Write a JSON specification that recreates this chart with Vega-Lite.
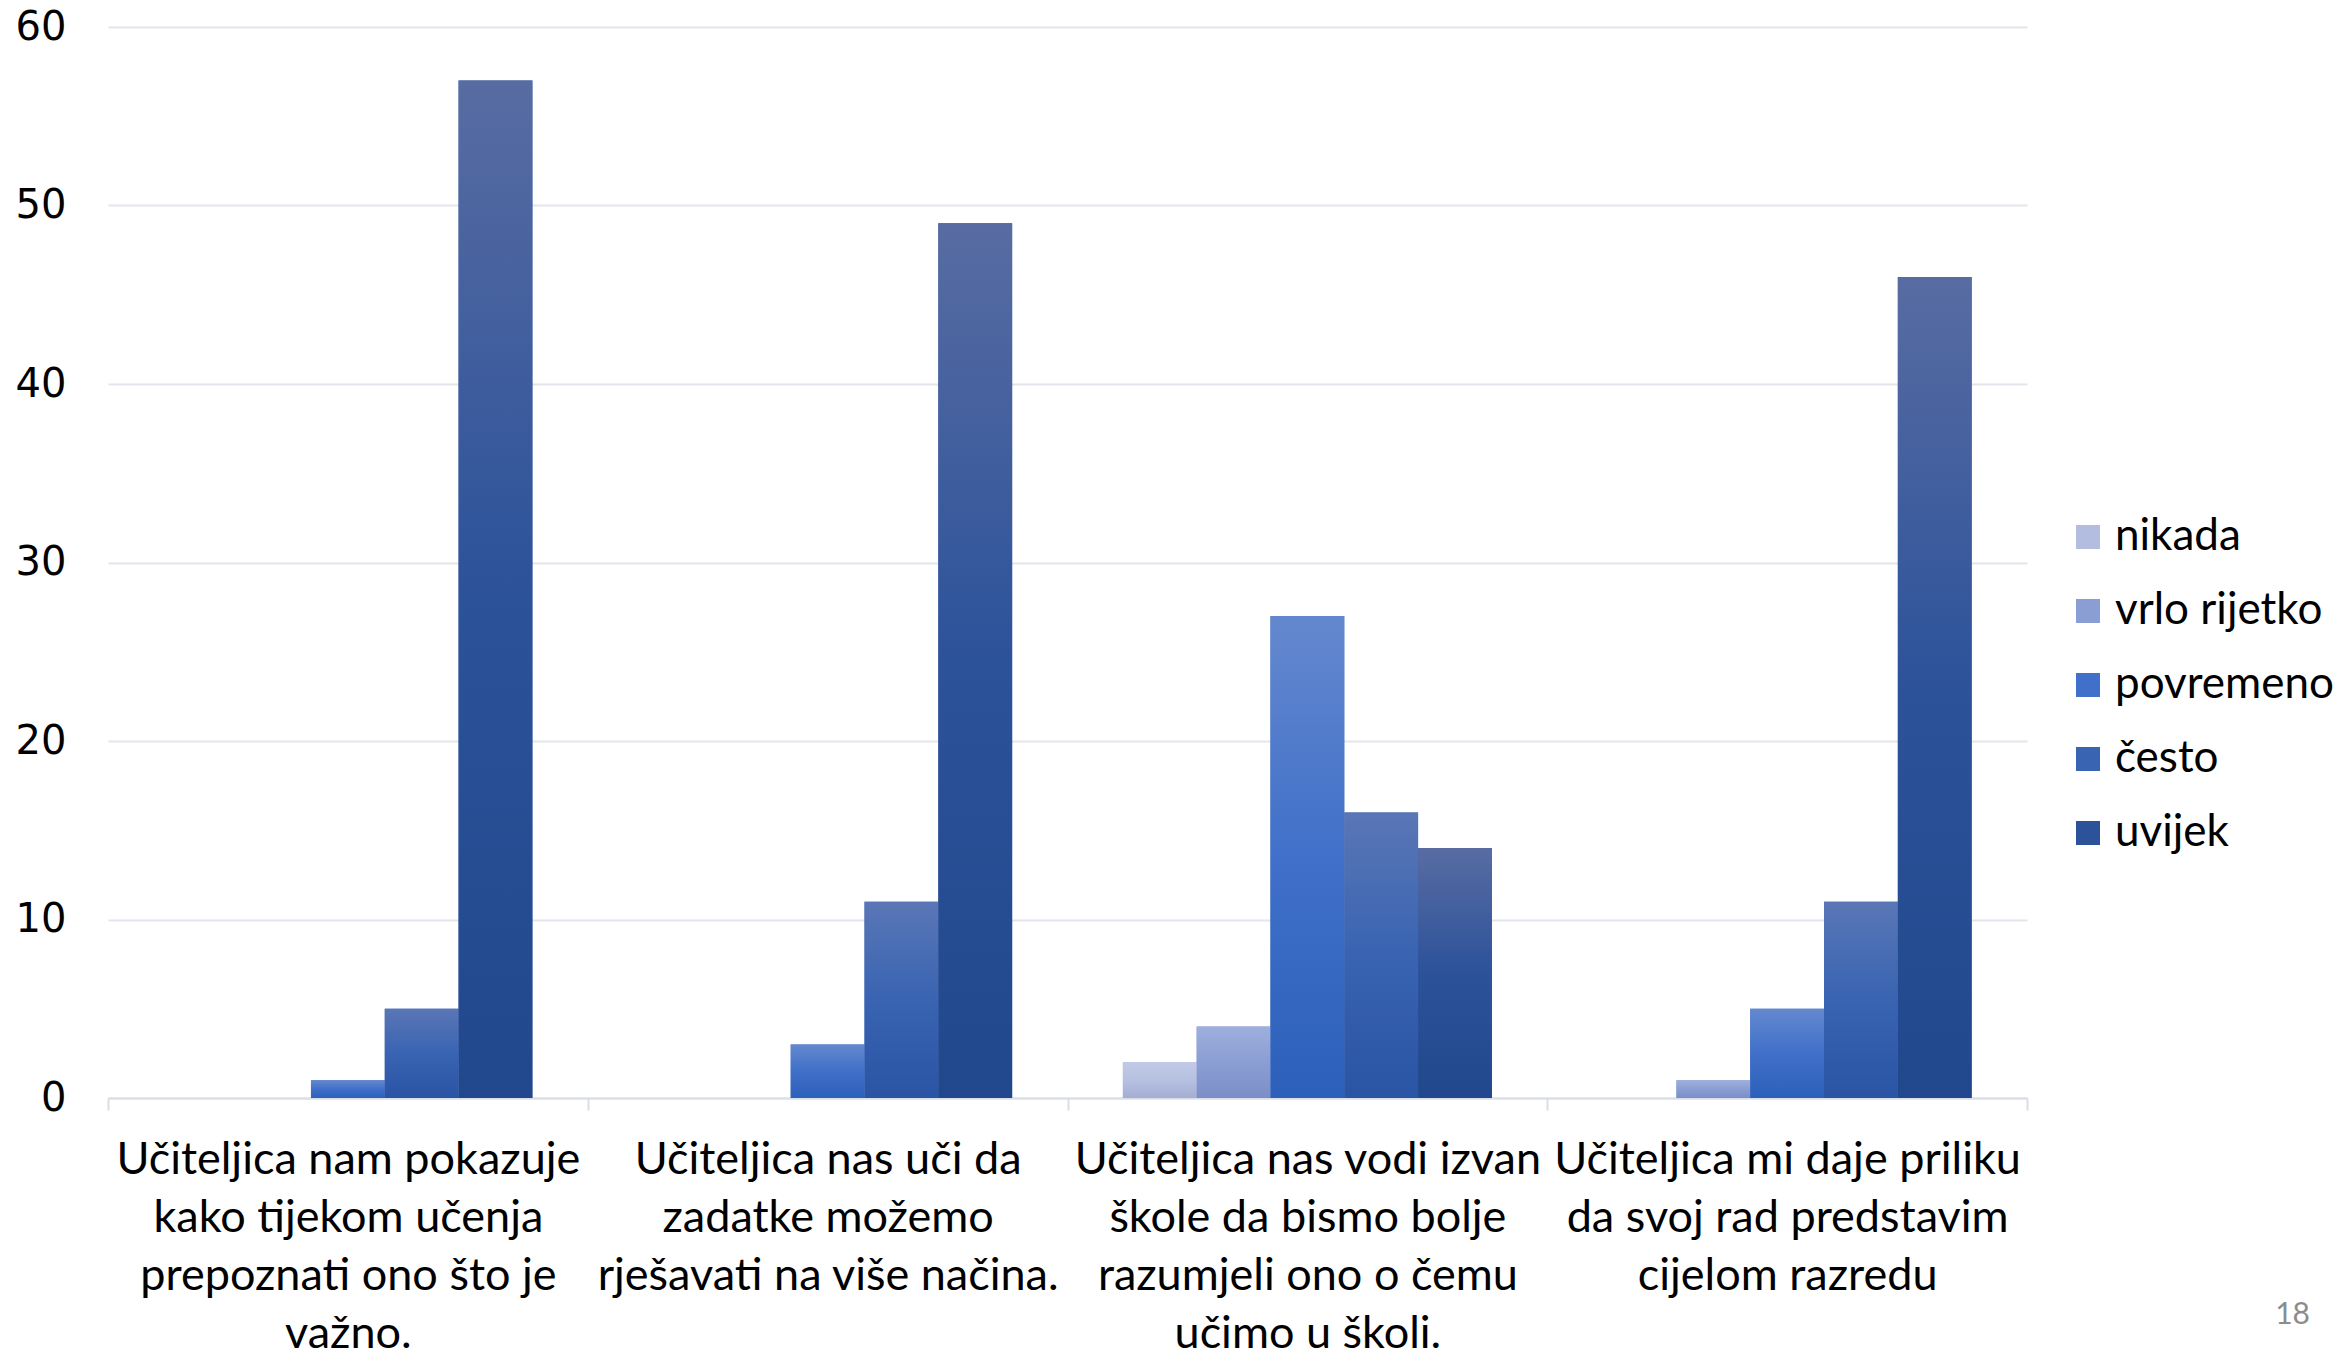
{
  "$schema": "https://vega.github.io/schema/vega-lite/v6.json",
  "autosize": {"type": "none"},
  "padding": {"left": 108, "top": 27, "right": 322, "bottom": 257},
  "width": 1919,
  "height": 1071,
  "background": "#ffffff",
  "title": {
    "text": "18",
    "orient": "bottom",
    "anchor": "end",
    "frame": "group",
    "fontSize": 30,
    "font": "Lato",
    "fontWeight": "normal",
    "color": "#8C8C8C",
    "dx": 283,
    "dy": -60
  },
  "data": {
    "values": [
      {"pitanje": "Učiteljica nam pokazuje kako tijekom učenja prepoznati ono što je važno.", "odgovor": "nikada", "broj": 0},
      {"pitanje": "Učiteljica nam pokazuje kako tijekom učenja prepoznati ono što je važno.", "odgovor": "vrlo rijetko", "broj": 0},
      {"pitanje": "Učiteljica nam pokazuje kako tijekom učenja prepoznati ono što je važno.", "odgovor": "povremeno", "broj": 1},
      {"pitanje": "Učiteljica nam pokazuje kako tijekom učenja prepoznati ono što je važno.", "odgovor": "često", "broj": 5},
      {"pitanje": "Učiteljica nam pokazuje kako tijekom učenja prepoznati ono što je važno.", "odgovor": "uvijek", "broj": 57},
      {"pitanje": "Učiteljica nas uči da zadatke možemo rješavati na više načina.", "odgovor": "nikada", "broj": 0},
      {"pitanje": "Učiteljica nas uči da zadatke možemo rješavati na više načina.", "odgovor": "vrlo rijetko", "broj": 0},
      {"pitanje": "Učiteljica nas uči da zadatke možemo rješavati na više načina.", "odgovor": "povremeno", "broj": 3},
      {"pitanje": "Učiteljica nas uči da zadatke možemo rješavati na više načina.", "odgovor": "često", "broj": 11},
      {"pitanje": "Učiteljica nas uči da zadatke možemo rješavati na više načina.", "odgovor": "uvijek", "broj": 49},
      {"pitanje": "Učiteljica nas vodi izvan škole da bismo bolje razumjeli ono o čemu učimo u školi.", "odgovor": "nikada", "broj": 2},
      {"pitanje": "Učiteljica nas vodi izvan škole da bismo bolje razumjeli ono o čemu učimo u školi.", "odgovor": "vrlo rijetko", "broj": 4},
      {"pitanje": "Učiteljica nas vodi izvan škole da bismo bolje razumjeli ono o čemu učimo u školi.", "odgovor": "povremeno", "broj": 27},
      {"pitanje": "Učiteljica nas vodi izvan škole da bismo bolje razumjeli ono o čemu učimo u školi.", "odgovor": "često", "broj": 16},
      {"pitanje": "Učiteljica nas vodi izvan škole da bismo bolje razumjeli ono o čemu učimo u školi.", "odgovor": "uvijek", "broj": 14},
      {"pitanje": "Učiteljica mi daje priliku da svoj rad predstavim cijelom razredu", "odgovor": "nikada", "broj": 0},
      {"pitanje": "Učiteljica mi daje priliku da svoj rad predstavim cijelom razredu", "odgovor": "vrlo rijetko", "broj": 1},
      {"pitanje": "Učiteljica mi daje priliku da svoj rad predstavim cijelom razredu", "odgovor": "povremeno", "broj": 5},
      {"pitanje": "Učiteljica mi daje priliku da svoj rad predstavim cijelom razredu", "odgovor": "često", "broj": 11},
      {"pitanje": "Učiteljica mi daje priliku da svoj rad predstavim cijelom razredu", "odgovor": "uvijek", "broj": 46}
    ]
  },
  "encoding": {
    "x": {
      "field": "pitanje",
      "type": "nominal",
      "sort": null,
      "scale": {"paddingInner": 0, "paddingOuter": 0},
      "axis": {
        "title": null,
        "labelAngle": 0,
        "labelFont": "Lato",
        "labelFontSize": 45,
        "labelColor": "#000000",
        "labelLineHeight": 58,
        "labelBaseline": "top",
        "labelPadding": 27,
        "labelLimit": 0,
        "labelAlign": "center",
        "tickBand": "extent",
        "tickColor": "#D9DEE6",
        "tickWidth": 2,
        "tickSize": 12,
        "domainColor": "#D9DEE6",
        "domainWidth": 2,
        "grid": false,
        "labelExpr": "datum.value == 'Učiteljica nam pokazuje kako tijekom učenja prepoznati ono što je važno.' ? ['Učiteljica nam pokazuje', 'kako tijekom učenja', 'prepoznati ono što je', 'važno.'] : datum.value == 'Učiteljica nas uči da zadatke možemo rješavati na više načina.' ? ['Učiteljica nas uči da', 'zadatke možemo', 'rješavati na više načina.'] : datum.value == 'Učiteljica nas vodi izvan škole da bismo bolje razumjeli ono o čemu učimo u školi.' ? ['Učiteljica nas vodi izvan', 'škole da bismo bolje', 'razumjeli ono o čemu', 'učimo u školi.'] : datum.value == 'Učiteljica mi daje priliku da svoj rad predstavim cijelom razredu' ? ['Učiteljica mi daje priliku', 'da svoj rad predstavim', 'cijelom razredu'] : ''"
      }
    },
    "xOffset": {
      "field": "odgovor",
      "type": "nominal",
      "sort": ["nikada", "vrlo rijetko", "povremeno", "često", "uvijek"],
      "scale": {"paddingInner": 0, "paddingOuter": 0.75}
    },
    "y": {
      "field": "broj",
      "type": "quantitative",
      "scale": {"domain": [0, 60], "nice": false},
      "axis": {
        "title": null,
        "values": [0, 10, 20, 30, 40, 50, 60],
        "domain": false,
        "ticks": false,
        "gridColor": "#E2E6EC",
        "gridWidth": 2,
        "labelFont": "DejaVu Sans",
        "labelFontSize": 40,
        "labelColor": "#000000",
        "labelPadding": 42
      }
    }
  },
  "layer": [
    {
      "mark": {"type": "bar", "strokeWidth": 0},
      "encoding": {
        "color": {
          "field": "odgovor",
          "type": "nominal",
          "scale": {
            "domain": ["nikada", "vrlo rijetko", "povremeno", "često", "uvijek"],
            "range": ["#B3BDDF", "#8B9ED3", "#4070C9", "#3964B2", "#2C529A"]
          },
          "legend": {
            "title": null,
            "orient": "none",
            "legendX": 1958,
            "legendY": 488,
            "padding": 0,
            "symbolType": "square",
            "symbolSize": 576,
            "symbolStrokeWidth": 0,
            "symbolOpacity": 1,
            "labelFont": "Lato",
            "labelFontSize": 44,
            "labelColor": "#000000",
            "labelOffset": 5,
            "rowPadding": 30,
            "labelLimit": 400
          }
        }
      }
    },
    {
      "mark": {
        "type": "bar",
        "strokeWidth": 0,
        "color": {"expr": "datum.odgovor == 'nikada' ? {gradient: 'linear', x1: 0, y1: 0, x2: 0, y2: 1, stops: [{offset: 0, color: '#C2CAE7'}, {offset: 0.5, color: '#B6C0E0'}, {offset: 1, color: '#A3AED3'}]} : datum.odgovor == 'vrlo rijetko' ? {gradient: 'linear', x1: 0, y1: 0, x2: 0, y2: 1, stops: [{offset: 0, color: '#9DAFDC'}, {offset: 0.5, color: '#8B9ED3'}, {offset: 1, color: '#7C8EC7'}]} : datum.odgovor == 'povremeno' ? {gradient: 'linear', x1: 0, y1: 0, x2: 0, y2: 1, stops: [{offset: 0, color: '#6488CE'}, {offset: 0.5, color: '#4070C9'}, {offset: 1, color: '#2C60BA'}]} : datum.odgovor == 'često' ? {gradient: 'linear', x1: 0, y1: 0, x2: 0, y2: 1, stops: [{offset: 0, color: '#5A76B6'}, {offset: 0.5, color: '#3964B2'}, {offset: 1, color: '#2A54A4'}]} : {gradient: 'linear', x1: 0, y1: 0, x2: 0, y2: 1, stops: [{offset: 0, color: '#586CA2'}, {offset: 0.5, color: '#2C529A'}, {offset: 1, color: '#21478C'}]}"}
      }
    }
  ],
  "config": {
    "view": {"stroke": null}
  }
}
